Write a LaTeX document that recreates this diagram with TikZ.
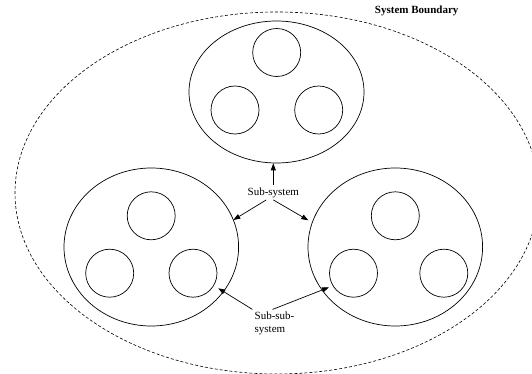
\documentclass[tikz,border=0pt]{standalone}
\usepackage{fontspec}
\setmainfont{Liberation Serif}
\usepackage{tikz}
\usetikzlibrary{shapes.geometric, arrows.meta, positioning, calc}

\begin{document}
\begin{tikzpicture}[
    x=1pt, y=-1pt,
    boundary/.style={draw, dash pattern=on 3pt off 2pt, line width=0.6pt},
    subsys/.style={ellipse, draw, line width=0.7pt, inner sep=0pt},
    part/.style={circle, draw, line width=0.7pt, minimum size=48pt, inner sep=0pt},
    lbl/.style={font=\fontsize{11}{13.3}\selectfont, inner sep=2pt, align=left},
    arr/.style={-{Triangle[length=7pt, width=5pt]}, line width=0.7pt},
]
    \useasboundingbox (0,0) rectangle (532,374);

    % Boundary
    \node[ellipse, boundary, minimum width=524pt, minimum height=362pt] (sysb) at (277,193) {};
    \node[lbl, font=\fontsize{11}{13.3}\selectfont\bfseries] (sysblbl) at (416.7,11) {System Boundary};

    % Top sub-system
    \node[subsys, minimum width=175pt, minimum height=142pt] (top) at (276.5,92) {};
    \node[part] (t1) at (276.7,52.5) {};
    \node[part] (t2) at (235,110) {};
    \node[part] (t3) at (318.7,110) {};

    % Left sub-system
    \node[subsys, minimum width=174.6pt, minimum height=158pt] (left) at (151.3,247) {};
    \node[part] (l1) at (151.2,215.8) {};
    \node[part] (l2) at (109.7,273.2) {};
    \node[part] (l3) at (193,273.2) {};

    % Right sub-system
    \node[subsys, minimum width=174.6pt, minimum height=158pt] (right) at (395.3,247) {};
    \node[part] (r1) at (395.3,215.8) {};
    \node[part] (r2) at (353.5,273.2) {};
    \node[part] (r3) at (443.8,273.2) {};

    % Labels
    \node[lbl] (sub) at (273.3,192.7) {Sub-system};
    \node[lbl] (subsub) at (274.5,323.3) {Sub-sub-\\system};

    \coordinate (subL) at (233.3,220);
    \coordinate (subR) at (308.3,220.3);
    \coordinate (subsubL) at (218.3,288.3);
    \coordinate (subsubR) at (329,287.3);

    \draw[arr] (sub.north) -- (sub.north |- top.south);
    \draw[arr] ([xshift=-7pt]sub.south) -- (subL);
    \draw[arr] (sub.south) -- (subR);
    \draw[arr] (subsub.north west) -- (subsubL);
    \draw[arr] ([xshift=-2pt]subsub.north) -- (subsubR);
\end{tikzpicture}
\end{document}
